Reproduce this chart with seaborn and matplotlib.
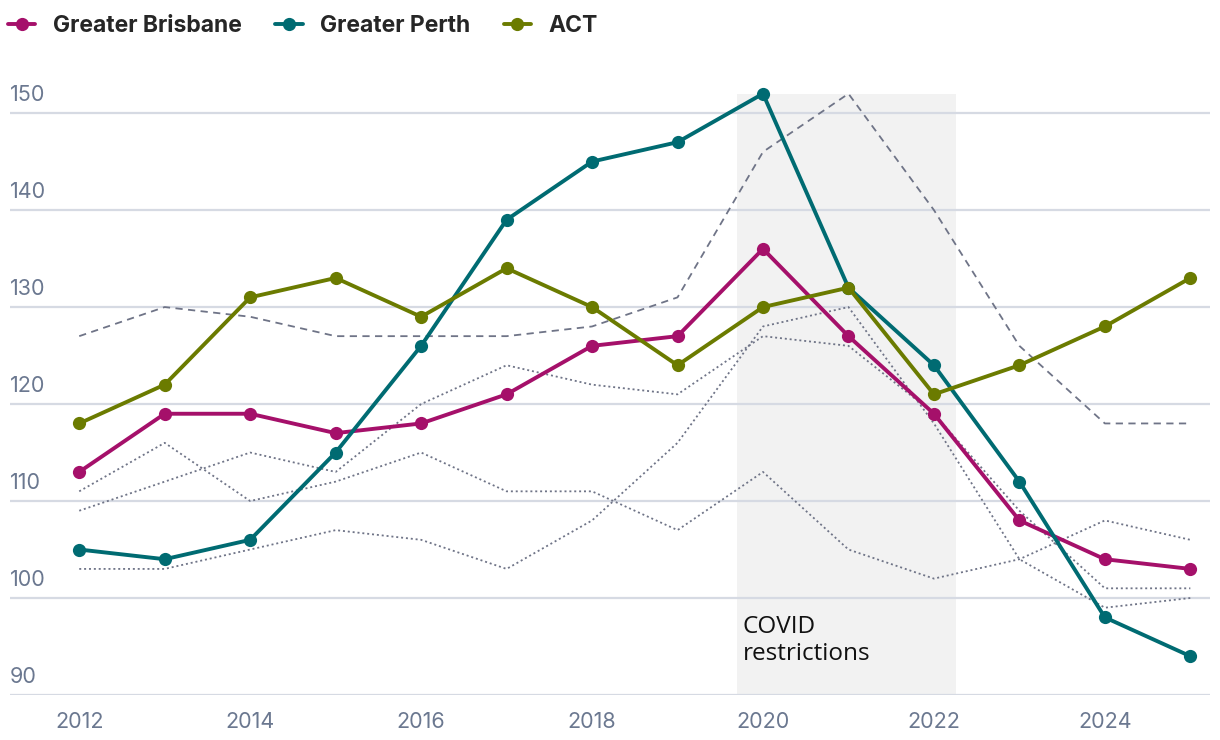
import pandas as pd
import matplotlib.pyplot as plt
import seaborn as sns
from matplotlib.lines import Line2D
from matplotlib.transforms import blended_transform_factory

# 데이터
years = list(range(2012, 2026))
brisbane = [113, 119, 119, 117, 118, 121, 126, 127, 136, 127, 119, 108, 104, 103]
perth = [105, 104, 106, 115, 126, 139, 145, 147, 152, 132, 124, 112, 98, 94]
act = [118, 122, 131, 133, 129, 134, 130, 124, 130, 132, 121, 124, 128, 133]

# 비교용 회색 선
other_dashed = [127, 130, 129, 127, 127, 127, 128, 131, 146, 152, 140, 126, 118, 118]
other_dotted_a = [111, 116, 110, 112, 115, 111, 111, 107, 113, 105, 102, 104, 108, 106]
other_dotted_b = [109, 112, 115, 113, 120, 124, 122, 121, 127, 126, 119, 109, 101, 101]
other_dotted_c = [103, 103, 105, 107, 106, 103, 108, 116, 128, 130, 118, 104, 99, 100]

y_ticks = [90, 100, 110, 120, 130, 140, 150]
x_ticks = [2012, 2014, 2016, 2018, 2020, 2022, 2024]
covid_span = (2019.7, 2022.26, 152)

series = {"Greater Brisbane": brisbane, "Greater Perth": perth, "ACT": act}
colors = {"Greater Brisbane": "#A5106A", "Greater Perth": "#006B72", "ACT": "#6B7B00"}
grey = "#6F7487"
label_color = "#6B7890"

sns.set_style("white")
plt.rcParams['font.family'] = ['Inter', 'DejaVu Sans']

fig = plt.figure(figsize=(12.2, 7.4), dpi=100)
ax = fig.add_axes([10 / 1220, 45 / 740, 1200 / 1220, 611 / 740])

# COVID 구간 음영
ax.fill_between([covid_span[0], covid_span[1]], 90, covid_span[2], color="#F2F2F2", lw=0, zorder=0)

for yt in y_ticks:
    ax.axhline(yt, color="#D6DAE3", lw=1.6, zorder=0.5)

sns.lineplot(x=years, y=other_dashed, ax=ax, color=grey, lw=1.3, linestyle=(0, (4, 3)), zorder=1)
for vals in [other_dotted_a, other_dotted_b, other_dotted_c]:
    sns.lineplot(x=years, y=vals, ax=ax, color=grey, lw=1.3, linestyle=(0, (1.1, 1.6)), zorder=1)

for name, vals in series.items():
    sns.lineplot(x=years, y=vals, ax=ax, color=colors[name], lw=2.8, marker="o",
                 markersize=9.5, markeredgewidth=0, zorder=3)

ax.set_xlim(2011.19, 2025.23)
ax.set_ylim(90, 153)
ax.set_xticks(x_ticks)
ax.set_xticklabels([str(x) for x in x_ticks], fontsize=15.5, color=label_color)
ax.set_yticks([])
ax.tick_params(axis="x", length=0, pad=12)
for s in ax.spines.values():
    s.set_visible(False)

# y 라벨은 격자선 위에
trans = blended_transform_factory(ax.transAxes, ax.transData)
for yt in y_ticks:
    ax.text(0.0, yt + 0.85, str(yt), transform=trans, ha="left", va="bottom",
            fontsize=15.5, color=label_color)

ax.text(2019.76, 98.3, "COVID\nrestrictions", fontsize=17.5, color="#111111",
        ha="left", va="top", linespacing=1.2, family=['Open Sans', 'DejaVu Sans'])

handles = [Line2D([0], [0], color=colors[n], lw=2.8, marker="o", markersize=9.5,
                  markeredgewidth=0) for n in series]
fig.legend(handles, list(series.keys()), loc="upper left", bbox_to_anchor=(-0.0105, 1.007),
           ncol=3, frameon=False, handlelength=1.2, handletextpad=0.77, columnspacing=1.45,
           prop={"size": 16.5, "weight": "bold"})

plt.savefig("out.png", dpi=100)
plt.close()
